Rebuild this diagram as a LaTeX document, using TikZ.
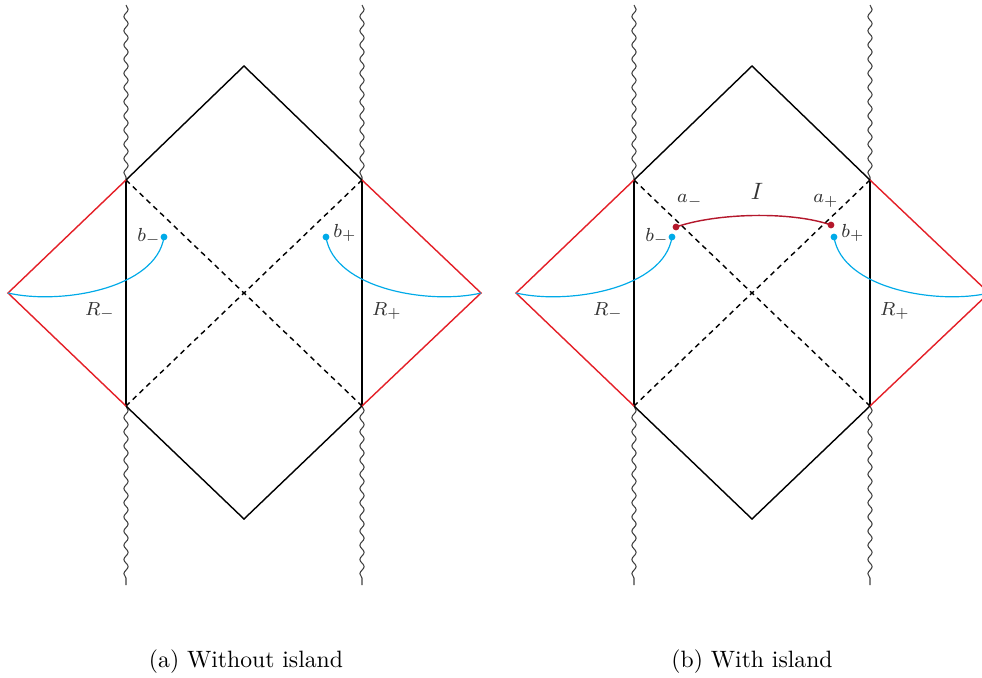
\documentclass[tikz,border=0pt]{standalone}
\usepackage{tikz}
\usetikzlibrary{decorations.pathmorphing}
\usepackage{amsmath}
\usepackage{xcolor}
\definecolor{horizonred}{RGB}{228,32,40}
\definecolor{slicecyan}{RGB}{0,170,232}
\definecolor{islandred}{RGB}{180,24,44}

\begin{document}
\begin{tikzpicture}[x=0.4227pt, y=-0.4227pt, line width=0.6pt,
    sing/.style={draw=black!75, line width=0.45pt, decorate,
        decoration={snake, amplitude=0.9pt, segment length=6pt}},
    horizon/.style={black, dash pattern=on 2.2pt off 1.8pt},
    bdry/.style={horizonred},
    slice/.style={slicecyan, line width=0.5pt},
    lbl/.style={font=\footnotesize, text=black!80, inner sep=0pt}]

    \useasboundingbox (0,0) rectangle (982,677);
    \clip (0,0) rectangle (982,677);

    % 两个彭罗斯图 (左: 无岛, 右: 有岛)
    \foreach \p/\dx in {a/0, b/508} {
    \begin{scope}[shift={(\dx,0)}]
        % 角点
        \coordinate (\p-top) at (244,66);
        \coordinate (\p-bot) at (244,519);
        \coordinate (\p-ul) at (126,180);
        \coordinate (\p-ur) at (362,180);
        \coordinate (\p-ll) at (126,406);
        \coordinate (\p-lr) at (362,406);
        \coordinate (\p-left) at (8,293);
        \coordinate (\p-right) at (481,293);

        % 奇点 (波浪线)
        \draw[sing] (126,5) -- (\p-ul);
        \draw[sing] (\p-ll) -- (126,585);
        \draw[sing] (362,5) -- (\p-ur);
        \draw[sing] (\p-lr) -- (362,585);

        % 黑色边界
        \draw (\p-ul) -- (\p-top) -- (\p-ur);
        \draw (\p-ll) -- (\p-bot) -- (\p-lr);
        \draw (\p-ul) -- (\p-ll);
        \draw (\p-ur) -- (\p-lr);

        % 视界 (虚线)
        \draw[horizon] (\p-ul) -- (\p-lr);
        \draw[horizon] (\p-ur) -- (\p-ll);

        % 浴池区域 (红线)
        \draw[bdry] (\p-ul) -- (\p-left) -- (\p-ll);
        \draw[bdry] (\p-ur) -- (\p-right) -- (\p-lr);

        % 辐射区 R 及端点 b
        \coordinate (\p-bm) at (164,237);
        \coordinate (\p-bp) at (326,237);
        \draw[slice] (\p-bm) .. controls +(-8,52) and +(52,12) .. (\p-left);
        \draw[slice] (\p-bp) .. controls +(8,52) and +(-51,12) .. (\p-right);
        \fill[slicecyan] (\p-bm) circle (3.4);
        \fill[slicecyan] (\p-bp) circle (3.4);

        \node[lbl] (\p-bmlab) at (149,237) {$b_-$};
        \node[lbl] (\p-bplab) at (345,233) {$b_+$};
        \node[lbl] (\p-rmlab) at (100,311) {$R_-$};
        \node[lbl] (\p-rplab) at (387,311) {$R_+$};
    \end{scope}
    }

    % 岛 I (只在右图)
    \begin{scope}[shift={(508,0)}]
        \coordinate (am) at (168,227);
        \coordinate (ap) at (323,225);
        \draw[islandred] (am) .. controls +(40,-14) and +(-40,-14) .. (ap);
        \fill[islandred] (am) circle (3.4);
        \fill[islandred] (ap) circle (3.4);
        \node[lbl] (amlab) at (182,201) {$a_-$};
        \node[lbl] (aplab) at (318,201) {$a_+$};
        \node[lbl, font=\normalsize] (ilab) at (249,191) {$I$};
    \end{scope}

    % 子图标题
    \node (capa) at (246,662) {(a) Without island};
    \node (capb) at (752,662) {(b) With island};
\end{tikzpicture}
\end{document}
